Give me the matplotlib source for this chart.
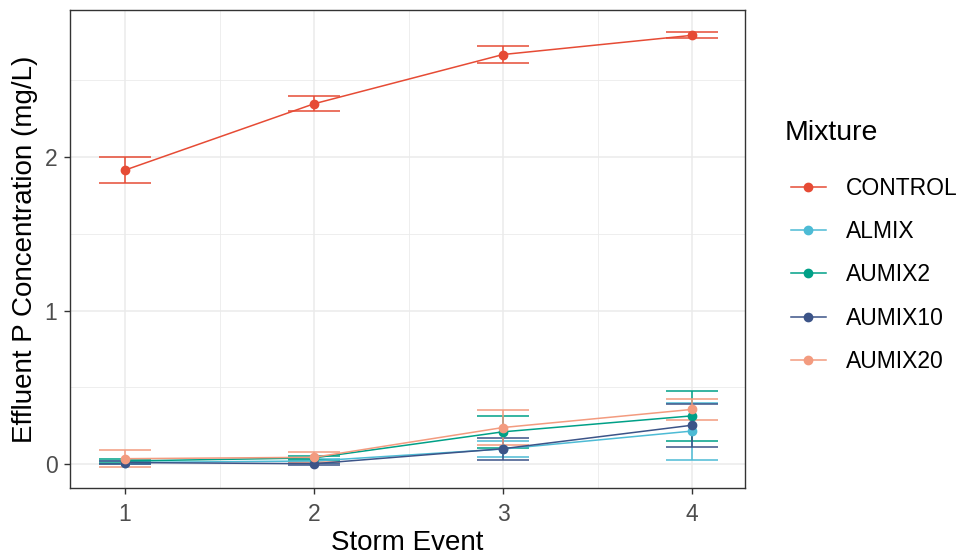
import numpy as np
import matplotlib.pyplot as plt

plt.rcParams['font.family'] = ['Liberation Sans', 'DejaVu Sans']

# storm events and mean effluent P (mg/L) with error bar half-widths
events = [1, 2, 3, 4]
mixtures = ["CONTROL", "ALMIX", "AUMIX2", "AUMIX10", "AUMIX20"]

control_mean = [1.915, 2.347, 2.668, 2.793]
control_err = [0.083, 0.050, 0.057, 0.020]
almix_mean = [0.010, 0.020, 0.098, 0.215]
almix_err = [0.010, 0.010, 0.050, 0.186]
aumix2_mean = [0.020, 0.040, 0.210, 0.314]
aumix2_err = [0.010, 0.015, 0.105, 0.164]
aumix10_mean = [0.010, 0.002, 0.100, 0.253]
aumix10_err = [0.008, 0.008, 0.072, 0.140]
aumix20_mean = [0.035, 0.044, 0.238, 0.356]
aumix20_err = [0.057, 0.033, 0.114, 0.070]

colors = ["#E64B35", "#4DBBD5", "#00A087", "#3C5488", "#F39B7F"]

means = [control_mean, almix_mean, aumix2_mean, aumix10_mean, aumix20_mean]
errs = [control_err, almix_err, aumix2_err, aumix10_err, aumix20_err]

fig = plt.figure(figsize=(9.61, 5.58), dpi=100)
ax = fig.add_axes([70 / 961, 1 - 488 / 558, 675 / 961, 478 / 558])

handles = []
for name, m, e, c in zip(mixtures, means, errs, colors):
    ax.errorbar(events, m, yerr=e, color=c, lw=1.1, capsize=19,
                capthick=1.1, fmt="none", zorder=3)
    h, = ax.plot(events, m, color=c, lw=1.1, marker="o", ms=6, zorder=4,
                 label=name)
    handles.append(h)

ax.set_xlim(0.709, 4.28)
ax.set_ylim(-0.156, 2.958)
ax.set_xticks(events)
ax.set_yticks([0, 1, 2])
ax.set_xticks([1.5, 2.5, 3.5], minor=True)
ax.set_yticks([0.5, 1.5, 2.5], minor=True)
ax.grid(True, which="major", color="#ebebeb", lw=1.1, zorder=0)
ax.grid(True, which="minor", color="#ebebeb", lw=0.6, zorder=0)
ax.tick_params(which="major", labelsize=16.5, labelcolor="#4d4d4d",
               color="#333333", length=4, width=1, pad=5)
ax.tick_params(axis="x", which="major", pad=7)
ax.tick_params(which="minor", length=0)
for s in ax.spines.values():
    s.set_color("#333333")
    s.set_linewidth(1)

ax.set_xlabel("Storm Event", fontsize=20, labelpad=3)
ax.set_ylabel("Effluent P Concentration (mg/L)", fontsize=20, labelpad=5)

# legend title drawn separately so it sits left of the keys like ggplot
fig.text(785 / 961, 1 - 133 / 558, "Mixture", fontsize=20.5, va="center")
leg = fig.legend(handles=handles, loc="upper left",
                 bbox_to_anchor=(770 / 961, 1 - 156 / 558), frameon=False,
                 fontsize=16.5, handlelength=1.55, handletextpad=0.85,
                 labelspacing=0.89)

fig.savefig("out.png", dpi=100)
